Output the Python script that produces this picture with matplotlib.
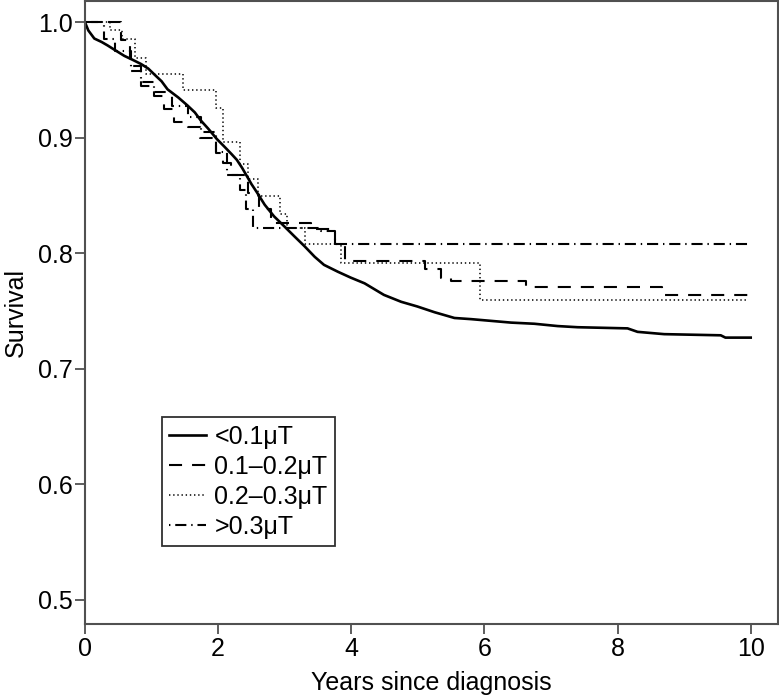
import matplotlib
matplotlib.use("Agg")
import matplotlib.pyplot as plt

plt.rcParams['font.family'] = ['Liberation Sans', 'DejaVu Sans']
plt.rcParams['lines.scale_dashes'] = False

# Kaplan-Meier curves (time in years, survival)
t_low = [0, 0.05, 0.14, 0.25, 0.34, 0.45, 0.59, 0.7, 0.84, 0.95, 1.04, 1.15, 1.24,
         1.4, 1.54, 1.65, 1.74, 1.85, 1.98, 2.1, 2.2, 2.28, 2.36, 2.43, 2.5, 2.58,
         2.7, 2.84, 3.0, 3.14, 3.3, 3.45, 3.59, 3.8, 3.99, 4.2, 4.49, 4.75, 4.99,
         5.25, 5.55, 5.8, 6.0, 6.4, 6.75, 7.1, 7.4, 8.15, 8.3, 8.7, 9.55, 9.62, 10.0]
s_low = [1.0, 0.993, 0.986, 0.983, 0.980, 0.976, 0.971, 0.968, 0.964, 0.960, 0.955,
         0.949, 0.942, 0.935, 0.928, 0.922, 0.915, 0.908, 0.899, 0.892, 0.886, 0.881,
         0.874, 0.867, 0.860, 0.853, 0.842, 0.832, 0.823, 0.815, 0.806, 0.797, 0.790,
         0.784, 0.779, 0.774, 0.764, 0.758, 0.754, 0.749, 0.744, 0.743, 0.742, 0.740,
         0.739, 0.737, 0.736, 0.735, 0.732, 0.730, 0.729, 0.727, 0.727]

t_mid1 = [0, 0.54, 0.68, 0.84, 1.04, 1.19, 1.34, 1.55, 1.72, 1.97, 2.07, 2.2, 2.45,
          2.62, 2.8, 3.4, 3.75, 3.9, 5.1, 5.35, 5.5, 6.63, 8.66, 10.0]
s_mid1 = [1.0, 0.985, 0.962, 0.945, 0.936, 0.925, 0.914, 0.909, 0.900, 0.887, 0.878,
          0.868, 0.852, 0.838, 0.826, 0.821, 0.808, 0.793, 0.786, 0.779, 0.776,
          0.771, 0.764, 0.764]

t_mid2 = [0, 0.38, 0.55, 0.75, 0.91, 1.47, 1.97, 2.07, 2.33, 2.45, 2.6, 2.93, 3.03,
          3.3, 3.85, 5.93, 9.96]
s_mid2 = [1.0, 0.993, 0.986, 0.969, 0.955, 0.941, 0.926, 0.896, 0.877, 0.864, 0.850,
          0.834, 0.822, 0.808, 0.792, 0.760, 0.760]

t_high = [0, 0.28, 0.45, 0.69, 0.84, 1.04, 1.3, 1.55, 1.75, 1.97, 2.14, 2.33, 2.42,
          2.53, 3.55, 3.75, 10.0]
s_high = [1.0, 0.986, 0.975, 0.958, 0.948, 0.940, 0.928, 0.918, 0.905, 0.888, 0.8675,
          0.855, 0.838, 0.822, 0.819, 0.808, 0.808]

labels = ['<0.1\u03bcT', '0.1\u20130.2\u03bcT', '0.2\u20130.3\u03bcT', '>0.3\u03bcT']
x_ticks = [0, 2, 4, 6, 8, 10]
y_ticks = [0.5, 0.6, 0.7, 0.8, 0.9, 1.0]

fig = plt.figure(figsize=(7.79, 6.95), dpi=100)
ax = fig.add_axes([85 / 779, 71 / 695, 693 / 779, 623 / 695])

# big group has many events -> draws as a jagged line rather than clear steps
ax.plot(t_low, s_low, color='black', lw=1.9, label=labels[0])
ax.step(t_mid1, s_mid1, where='post', color='black', lw=1.5,
        linestyle=(0, (9.4, 7.2)), dash_capstyle='butt', label=labels[1])
ax.step(t_mid2, s_mid2, where='post', color='black', lw=1.1,
        linestyle=(0, (1.0, 2.0)), dash_capstyle='butt', label=labels[2])
ax.step(t_high, s_high, where='post', color='black', lw=1.5,
        linestyle=(0, (1.0, 3.5, 8.0, 3.5)), dash_capstyle='butt', label=labels[3])

ax.set_xlim(0, 10.41)
ax.set_ylim(0.479, 1.0185)
ax.set_xticks(x_ticks)
ax.set_xticklabels([str(v) for v in x_ticks])
ax.set_yticks(y_ticks)
ax.set_yticklabels([f'{v:.1f}' for v in y_ticks])
ax.tick_params(direction='out', length=7, width=1.3, color='#505050',
               labelsize=18, pad=2)
ax.tick_params(axis='x', pad=2.5)

for sp in ax.spines.values():
    sp.set_color('#505050')
    sp.set_linewidth(1.5)

ax.set_xlabel('Years since diagnosis', fontsize=18, labelpad=7)
ax.set_ylabel('Survival', fontsize=18, labelpad=7)

leg = ax.legend(loc='upper left', bbox_to_anchor=(0.111, 0.332), borderaxespad=0,
                fontsize=18, handlelength=1.48, handletextpad=0.32,
                labelspacing=0.24, borderpad=0.3, fancybox=False, framealpha=1)
leg.get_frame().set_edgecolor('#303030')
leg.get_frame().set_linewidth(1.3)

fig.savefig('out.png', dpi=100)
